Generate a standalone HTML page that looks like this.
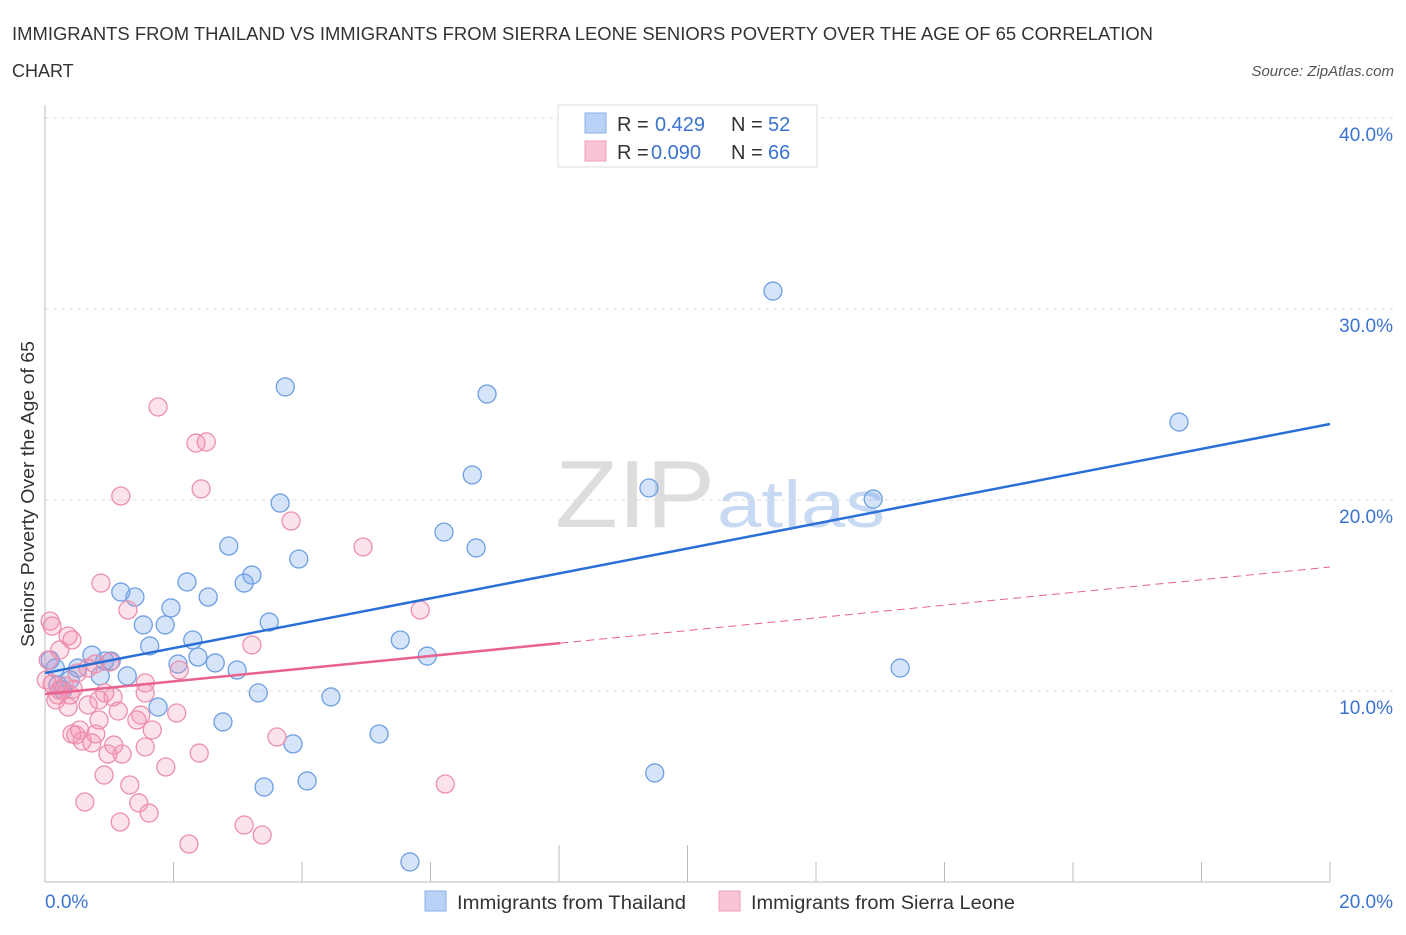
<!DOCTYPE html>
<html><head><meta charset="utf-8"><style>
body{margin:0;background:#fff;font-family:"Liberation Sans",sans-serif;}
svg text{font-family:"Liberation Sans",sans-serif;}
</style></head><body>
<svg id="chart" width="1406" height="930" viewBox="0 0 1406 930" xmlns="http://www.w3.org/2000/svg">
<text x="12" y="40" font-size="18" fill="#333" textLength="1141" lengthAdjust="spacingAndGlyphs">IMMIGRANTS FROM THAILAND VS IMMIGRANTS FROM SIERRA LEONE SENIORS POVERTY OVER THE AGE OF 65 CORRELATION</text>
<text x="12" y="77" font-size="18" fill="#333">CHART</text>
<text x="1394" y="76" font-size="15" fill="#555" text-anchor="end" font-style="italic">Source: ZipAtlas.com</text>
<g>
<text x="555" y="527" font-size="96" fill="#ddd" font-family="Liberation Serif,serif" textLength="160" lengthAdjust="spacingAndGlyphs">ZIP</text>
<text x="717" y="527" font-size="66" fill="#c8daf3" textLength="168" lengthAdjust="spacingAndGlyphs">atlas</text>
</g>
<g id="grid"></g>
<g id="axes"></g>
<g id="pts"></g>
<g id="trend"></g>
<g>
<rect x="558" y="105" width="259" height="62" fill="#fff" stroke="#ddd"/>
<rect x="585" y="113" width="21" height="20" fill="#b8d3f5" stroke="#8ab2e8"/>
<text x="617" y="131" font-size="20" fill="#333">R = </text><text x="655" y="131" font-size="20" fill="#3a73d0">0.429</text>
<text x="731" y="131" font-size="20" fill="#333">N = </text><text x="768" y="131" font-size="20" fill="#3a73d0">52</text>
<rect x="585" y="141" width="21" height="20" fill="#f9c5d5" stroke="#eda0b8"/>
<text x="617" y="159" font-size="20" fill="#333">R = </text><text x="651" y="159" font-size="20" fill="#3a73d0">0.090</text>
<text x="731" y="159" font-size="20" fill="#333">N = </text><text x="768" y="159" font-size="20" fill="#3a73d0">66</text>
</g>
<g>
<rect x="425" y="891" width="21" height="20" fill="#b8d3f5" stroke="#8ab2e8"/>
<text x="457" y="909" font-size="19" fill="#333" textLength="229" lengthAdjust="spacingAndGlyphs">Immigrants from Thailand</text>
<rect x="719" y="891" width="21" height="20" fill="#f9c5d5" stroke="#eda0b8"/>
<text x="751" y="909" font-size="19" fill="#333" textLength="264" lengthAdjust="spacingAndGlyphs">Immigrants from Sierra Leone</text>
</g>
<text transform="translate(34,494) rotate(-90)" font-size="18.5" fill="#333" text-anchor="middle" textLength="306" lengthAdjust="spacingAndGlyphs">Seniors Poverty Over the Age of 65</text>
</svg>
<script>
const yTicks=[10,20,30,40];
const yTickLabels=["10.0%","20.0%","30.0%","40.0%"];
const xTickLabels=["0.0%","20.0%"];
const blueX=[11.33,3.74,6.88,17.65,6.65,9.40,12.89,3.66,6.21,2.86,6.71,3.95,3.22,2.21,3.10,1.18,1.40,2.54,1.96,1.53,1.87,3.49,2.30,1.63,5.53,5.95,0.73,2.07,2.38,2.65,2.99,1.03,0.51,0.93,13.31,1.28,0.86,0.16,0.39,0.20,3.32,4.45,1.76,2.77,5.20,3.86,9.49,4.08,3.41,5.68,0.08,0.28];
const blueY=[30.94,25.92,25.55,24.08,21.31,20.63,20.05,19.84,18.32,17.59,17.49,16.91,16.07,15.71,15.65,15.18,14.92,14.92,14.35,13.46,13.46,13.61,12.67,12.36,12.67,11.83,11.88,11.41,11.78,11.47,11.10,11.57,11.20,11.57,11.20,10.79,10.79,11.20,10.58,10.31,9.90,9.69,9.16,8.38,7.75,7.23,5.71,5.29,4.97,1.05,11.62,10.05];
const pinkX=[1.76,2.35,2.51,2.43,1.18,3.83,4.95,0.87,1.29,5.84,0.08,0.11,0.36,0.42,3.22,0.23,0.05,0.67,0.78,1.01,0.50,2.09,0.11,1.56,0.23,0.39,0.93,1.06,0.84,1.56,0.67,0.36,1.14,2.05,1.49,0.84,1.43,1.67,0.42,0.48,0.58,0.79,0.73,1.07,1.56,2.40,0.98,1.20,1.88,3.61,0.92,1.32,6.23,0.62,1.46,1.62,1.17,3.10,3.38,2.24,0.20,0.30,0.44,0.02,0.17,0.54];
const pinkY=[24.87,22.98,23.04,20.58,20.21,18.90,17.54,15.65,14.24,14.24,13.66,13.40,12.88,12.67,12.41,12.15,11.62,11.20,11.41,11.52,10.94,11.10,10.37,10.42,10.05,9.79,9.90,9.69,9.53,9.90,9.27,9.16,8.95,8.85,8.74,8.48,8.48,7.96,7.75,7.70,7.38,7.75,7.28,7.17,7.07,6.75,6.70,6.70,6.02,7.59,5.60,5.08,5.13,4.19,4.14,3.61,3.14,2.98,2.46,1.99,9.79,10.26,10.10,10.58,9.53,7.96];
const blueTrend=[10.94,23.98];
const pinkTrend=[9.84,16.49];
const pinkSolidEnd=8.02;

const X0=45,X1=1330,Y0=882,PER=19.1;
const sx=v=>X0+(v/20)*(X1-X0);
const sy=v=>Y0-v*PER;
const NS="http://www.w3.org/2000/svg";
function mk(tag,attrs,parent){const e=document.createElementNS(NS,tag);for(const k in attrs)e.setAttribute(k,attrs[k]);document.getElementById(parent).appendChild(e);return e;}

yTicks.forEach((t,i)=>{
  const g=mk('line',{x1:X0,x2:1394,y1:sy(t),y2:sy(t),stroke:'#ddd','stroke-dasharray':'4,4'},'grid');
  
  
  const tx=mk('text',{x:1393,y:sy(t)+23,'font-size':19,fill:'#3a73d0','text-anchor':'end'},'grid');
  tx.textContent=yTickLabels[i];
  
  
});
const ax=mk('line',{x1:X0,x2:X0,y1:105,y2:Y0,stroke:'#bbb'},'axes');


const bx=mk('line',{x1:X0,x2:X1,y1:Y0,y2:Y0,stroke:'#bbb'},'axes');


for(let i=1;i<=10;i++){
  const x=sx(i*2);
  const tk=mk('line',{x1:x,x2:x,y1:(i==4||i==5)?845:862,y2:Y0,stroke:'#bbb'},'axes');
  
  
}
const xl0=mk('text',{x:45,y:908,'font-size':19,fill:'#3a73d0'},'axes');xl0.textContent=xTickLabels[0];


const xl1=mk('text',{x:1393,y:908,'font-size':19,fill:'#3a73d0','text-anchor':'end'},'axes');xl1.textContent=xTickLabels[1];



blueX.forEach((v,i)=>{
  const c=mk('circle',{cx:sx(v),cy:sy(blueY[i]),r:9,fill:'rgba(120,165,235,0.3)',stroke:'#6d9fe3','stroke-width':1.3},'pts');
  
  
});
pinkX.forEach((v,i)=>{
  const c=mk('circle',{cx:sx(v),cy:sy(pinkY[i]),r:9,fill:'rgba(245,140,170,0.25)',stroke:'#ec8fae','stroke-width':1.3},'pts');
  
  
});
const bl=mk('line',{x1:sx(0),y1:sy(blueTrend[0]),x2:sx(20),y2:sy(blueTrend[1]),stroke:'#2a6fd6','stroke-width':2.5},'trend');


const pAt=x=>pinkTrend[0]+(pinkTrend[1]-pinkTrend[0])*x/20;
const pl=mk('line',{x1:sx(0),y1:sy(pinkTrend[0]),x2:sx(pinkSolidEnd),y2:sy(pAt(pinkSolidEnd)),stroke:'#e8628f','stroke-width':2.5},'trend');


const pd=mk('line',{x1:sx(pinkSolidEnd),y1:sy(pAt(pinkSolidEnd)),x2:sx(20),y2:sy(pinkTrend[1]),stroke:'#e8628f','stroke-width':1,'stroke-dasharray':'8,5'},'trend');


</script>
</body></html>
